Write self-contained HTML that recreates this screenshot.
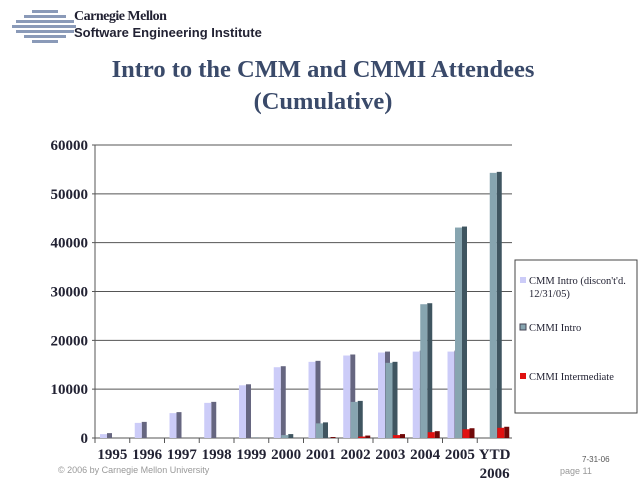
<!DOCTYPE html>
<html><head><meta charset="utf-8"><style>
body{margin:0;width:640px;height:482px;background:#fff;overflow:hidden;position:relative;font-family:"Liberation Serif",serif}
.abs{position:absolute}
</style></head><body>
<div class="abs" style="left:10px;top:8px;width:260px;height:36px">
<svg width="70" height="36">
<g fill="#8a9ab8"><rect x="22" y="2" width="26" height="3"/><rect x="14" y="7" width="42" height="3"/><rect x="6" y="12" width="58" height="3"/><rect x="2" y="17" width="64" height="3"/><rect x="6" y="22" width="58" height="3"/><rect x="14" y="27" width="42" height="3"/><rect x="22" y="32" width="26" height="3"/></g></svg>
<div class="abs" style="left:64px;top:1px;font:bold 14px 'Liberation Serif',serif;color:#223;letter-spacing:-0.5px">Carnegie Mellon</div>
<div class="abs" style="left:64px;top:17px;font:bold 13px 'Liberation Sans',sans-serif;color:#223;white-space:nowrap">Software Engineering Institute</div>
</div>
<div class="abs" style="left:0;width:646px;top:54px;text-align:center;font:bold 24.5px 'Liberation Serif',serif;color:#3a4a6a;line-height:32px">Intro to the CMM and CMMI Attendees<br>(Cumulative)</div>
<svg class="abs" style="left:0;top:0" width="640" height="482" id="chart"></svg>
<div class="abs" style="left:58px;top:465px;font:9px 'Liberation Sans',sans-serif;color:#999">© 2006 by Carnegie Mellon University</div>
<div class="abs" style="left:582px;top:455px;font:8px 'Liberation Sans',sans-serif;color:#555">7-31-06</div>
<div class="abs" style="left:560px;top:466px;font:9px 'Liberation Sans',sans-serif;color:#999">page 11</div>
<script>
const categories=["1995","1996","1997","1998","1999","2000","2001","2002","2003","2004","2005","YTD"];
const cmmIntro=[1000,3300,5300,7400,11000,14700,15800,17100,17700,17900,17900,0];
const cmmiIntro=[0,0,0,0,100,800,3200,7600,15600,27600,43300,54500];
const cmmiInter=[0,0,0,0,0,0,200,500,800,1400,2000,2300];
const yTicks=[0,10000,20000,30000,40000,50000,60000];
const seriesNames=["CMM Intro (discon't'd. 12/31/05)","CMMI Intro","CMMI Intermediate"];
const svg=document.getElementById('chart');const NS='http://www.w3.org/2000/svg';
const X0=95,X1=512,Y0=438,Y1=145,YMAX=60000;
const y=v=>Y0-(v/YMAX)*(Y0-Y1);
const bw=(X1-X0)/categories.length;
const x=i=>X0+i*bw;
function mk(t,a){const e=document.createElementNS(NS,t);for(const k in a)e.setAttribute(k,a[k]);svg.appendChild(e);return e;}
yTicks.forEach(t=>{
 const l=mk('line',{x1:X0-3,x2:X1,y1:y(t),y2:y(t),stroke:'#555','stroke-width':1});
 
 
 const tx=mk('text',{x:X0-7,y:y(t)+5,'text-anchor':'end','font-family':'Liberation Serif','font-weight':'bold','font-size':'15',fill:'#223'});
 tx.textContent=t;
 
 
});
const ax=mk('line',{x1:X0,x2:X0,y1:Y1,y2:Y0,stroke:'#555'});


const series=[cmmIntro,cmmiIntro,cmmiInter];
const fronts=['#ccccf8','#87a5b0','#e01010'],sides=['#666680','#3f5560','#700808'];
categories.forEach((c,i)=>{
 const tk=mk('line',{x1:x(i),x2:x(i),y1:Y0,y2:Y0+5,stroke:'#555'});
 
 
 const tx=mk('text',{x:x(i)+bw/2,y:Y0+21,'text-anchor':'middle','font-family':'Liberation Serif','font-weight':'bold','font-size':'15',fill:'#223'});
 tx.textContent=c;
 
 
 if(c==='YTD'){const t2=mk('text',{x:x(i)+bw/2,y:Y0+40,'text-anchor':'middle','font-family':'Liberation Serif','font-weight':'bold','font-size':'15',fill:'#223'});t2.textContent='2006';
 
 }
 series.forEach((s,k)=>{
  const v=s[i];if(v<=0)return;
  const bx=x(i)+5+k*7.5,top=y(v);
  const sd=mk('rect',{x:bx+7,y:top,width:5,height:Y0-top,fill:sides[k]});
  
  
  const fr=mk('rect',{x:bx,y:top+1,width:7,height:Y0-top-1,fill:fronts[k]});
  
  
 });
});
const lg=mk('rect',{x:515,y:260,width:122,height:153,fill:'#fff',stroke:'#444'});


const ly=[284,331,380];
seriesNames.forEach((n,k)=>{
 const sw=mk('rect',{x:520,y:ly[k]-7,width:6,height:6,fill:fronts[k],stroke:k==1?'#445':'none'});
 
 
 const t=mk('text',{x:529,y:ly[k],'font-family':'Liberation Serif','font-size':'10.5',fill:'#223'});
 
 
 if(k==0){t.textContent="CMM Intro (discon't'd.";const t2=mk('text',{x:529,y:ly[k]+13,'font-family':'Liberation Serif','font-size':'10.5',fill:'#223'});t2.textContent='12/31/05)';
 
 }
 else t.textContent=n;
});
</script>
</body></html>
